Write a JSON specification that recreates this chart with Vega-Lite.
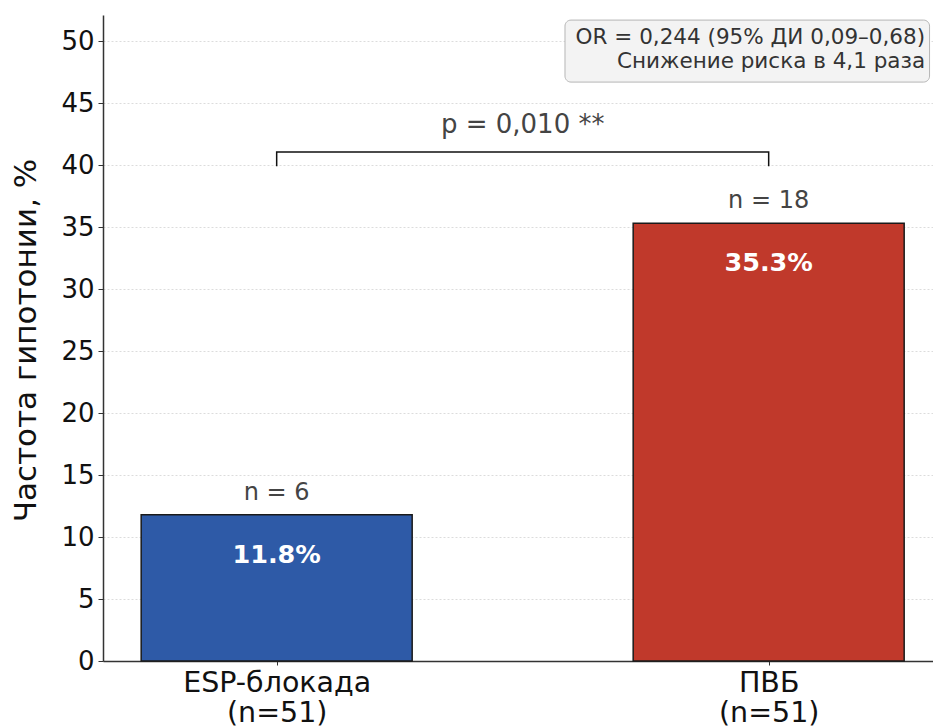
{
  "$schema": "https://vega.github.io/schema/vega-lite/v6.json",
  "width": 830,
  "height": 646,
  "autosize": {"type": "none"},
  "padding": {"left": 103, "top": 15, "right": 0, "bottom": 67},
  "background": "white",
  "config": {
    "font": "DejaVu Sans",
    "view": {"stroke": null},
    "axis": {"labelFont": "DejaVu Sans", "titleFont": "DejaVu Sans"}
  },
  "datasets": {
    "bars": [
      {"group": "ESP-блокада", "pos": 0, "pct": 11.8, "n": 6, "nlabel": "n = 6", "plabel": "11.8%"},
      {"group": "ПВБ", "pos": 1, "pct": 35.3, "n": 18, "nlabel": "n = 18", "plabel": "35.3%"}
    ],
    "bracket": [
      {"x": 0, "y": 39.9, "o": 1},
      {"x": 0, "y": 41.05, "o": 2},
      {"x": 1, "y": 41.05, "o": 3},
      {"x": 1, "y": 39.9, "o": 4}
    ],
    "ptext": [{"x": 0.5, "y": 43.2, "t": "p = 0,010 **"}],
    "box": [{"x": 0.586, "x2": 1.327, "y": 51.69, "y2": 46.69}],
    "boxtext": [
      {"x": 1.318, "y": 50.24, "t": "OR = 0,244 (95% ДИ 0,09–0,68)"},
      {"x": 1.318, "y": 48.3, "t": "Снижение риска в 4,1 раза"}
    ]
  },
  "layer": [
    {
      "data": {"name": "bars"},
      "mark": {"type": "bar", "width": 271, "stroke": "#1a1a1a", "strokeWidth": 1.5},
      "encoding": {
        "x": {
          "field": "pos", "type": "quantitative",
          "scale": {"domain": [-0.353, 1.334], "nice": false, "zero": false, "padding": 0},
          "axis": {
            "values": [0, 1],
            "title": null,
            "grid": false,
            "labelExpr": "datum.value == 0 ? ['ESP-блокада', '(n=51)'] : ['ПВБ', '(n=51)']",
            "labelFontSize": 28.5,
            "labelLineHeight": 30,
            "labelLimit": 500,
            "labelColor": "#111",
            "labelPadding": 3,
            "tickSize": 4,
            "tickColor": "#333",
            "domainColor": "#333",
            "domainWidth": 1.5
          }
        },
        "y": {
          "field": "pct", "type": "quantitative",
          "scale": {"domain": [0, 52.1], "nice": false},
          "axis": {
            "values": [0, 5, 10, 15, 20, 25, 30, 35, 40, 45, 50],
            "title": "Частота гипотонии, %",
            "titleFontSize": 31,
            "titleFontWeight": "normal",
            "titleColor": "#111",
            "titleAngle": -90,
            "titleX": -77,
            "titleY": 325,
            "titleAlign": "center",
            "titleBaseline": "middle",
            "labelFontSize": 26,
            "labelColor": "#111",
            "labelPadding": 4,
            "tickSize": 5,
            "tickColor": "#333",
            "domainColor": "#333",
            "domainWidth": 1.5,
            "grid": true,
            "gridColor": "#d3d3d3",
            "gridDash": [2, 2],
            "gridWidth": 0.8
          }
        },
        "color": {
          "field": "group", "type": "nominal",
          "scale": {"domain": ["ESP-блокада", "ПВБ"], "range": ["#2E5AA7", "#C0392B"]},
          "legend": null
        }
      }
    },
    {
      "data": {"name": "bars"},
      "mark": {"type": "text", "fontSize": 24, "color": "#444", "baseline": "middle", "dy": -22},
      "encoding": {
        "x": {"field": "pos", "type": "quantitative"},
        "y": {"field": "pct", "type": "quantitative"},
        "text": {"field": "nlabel"}
      }
    },
    {
      "data": {"name": "bars"},
      "mark": {"type": "text", "fontSize": 25.5, "fontWeight": "bold", "color": "white", "baseline": "middle", "dy": 40},
      "encoding": {
        "x": {"field": "pos", "type": "quantitative"},
        "y": {"field": "pct", "type": "quantitative"},
        "text": {"field": "plabel"}
      }
    },
    {
      "data": {"name": "bracket"},
      "mark": {"type": "line", "color": "#111", "strokeWidth": 1.5},
      "encoding": {
        "x": {"field": "x", "type": "quantitative"},
        "y": {"field": "y", "type": "quantitative"},
        "order": {"field": "o"}
      }
    },
    {
      "data": {"name": "ptext"},
      "mark": {"type": "text", "fontSize": 26, "color": "#444", "baseline": "middle"},
      "encoding": {
        "x": {"field": "x", "type": "quantitative"},
        "y": {"field": "y", "type": "quantitative"},
        "text": {"field": "t"}
      }
    },
    {
      "data": {"name": "box"},
      "mark": {"type": "rect", "fill": "#f3f3f3", "stroke": "#b5b5b5", "strokeWidth": 1, "cornerRadius": 6},
      "encoding": {
        "x": {"field": "x", "type": "quantitative"},
        "x2": {"field": "x2"},
        "y": {"field": "y", "type": "quantitative"},
        "y2": {"field": "y2"}
      }
    },
    {
      "data": {"name": "boxtext"},
      "mark": {"type": "text", "fontSize": 21.5, "color": "#333", "align": "right", "baseline": "middle"},
      "encoding": {
        "x": {"field": "x", "type": "quantitative"},
        "y": {"field": "y", "type": "quantitative"},
        "text": {"field": "t"}
      }
    }
  ]
}
